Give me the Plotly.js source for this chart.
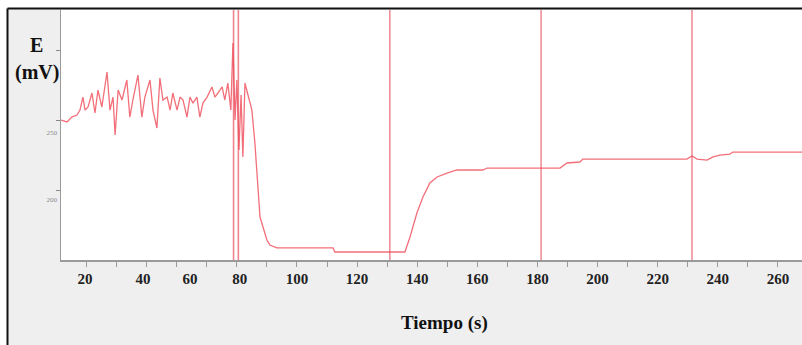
<!DOCTYPE html>
<html><head><meta charset="utf-8">
<script src="https://cdn.plot.ly/plotly-3.0.1.min.js"></script>
<style>html,body{margin:0;padding:0;background:#fff;overflow:hidden}</style>
</head><body><div id="chart" style="width:802px;height:345px"></div>
<script>
// Time (s)
const time = [21.5,23.5,25.1,26.8,27.8,28.8,29.5,30.5,31.8,32.8,33.8,35.1,36.8,37.8,38.8,39.5,40.5,41.8,43.4,44.4,45.4,47.1,48.4,49.4,51.1,52.1,53.4,54.4,55.4,56.8,57.8,58.7,60.1,61.1,62.1,63.4,64.4,65.4,66.7,67.7,68.7,70.1,71.7,72.7,73.7,75.1,76.0,77.0,78.0,78.7,79.4,80.0,80.7,81.4,82.0,82.7,83.7,85.0,86.0,87.0,87.7,88.7,90.0,91.0,93.3,97.7,112.0,112.6,135.9,137.6,139.9,141.9,144.2,146.6,149.9,153.2,161.9,163.2,187.5,189.8,194.1,195.1,229.7,231.4,233.1,236.4,238.4,240.7,244.0,245.0,268.0];
// Potential E (mV)
const potential = [250,248.6,252.1,253.6,257.1,266.4,257.1,259.3,269.3,255,271.4,259.3,284.3,257.1,266.4,239.3,271.4,264.3,278.6,252.1,264.3,282.1,252.1,266.4,278.6,257.1,244.3,280,264.3,266.4,257.1,269.3,257.1,266.4,264.3,252.1,266.4,262.1,266.4,252.1,262.1,266.4,273.6,266.4,269.3,273.6,264.3,276.4,257.1,305,250,278.6,228.6,267.9,223.6,276.4,267.9,257.1,233.6,197.9,180.7,173.6,164.3,160.7,158.6,158.6,158.6,155.7,155.7,166.4,183.6,195,205,209.3,212.1,214.3,214.3,215.7,215.7,219.3,220,222.1,222.1,224.3,222.1,221.4,223.6,225,225.7,227.1,227.1];
// Event marker times (s)
const eventTimes = [78.9,80.5,130.9,181.2,231.4];
// X tick labels and where they are printed
const xTickLabels = ['20','40','60','80','100','120','140','160','180','200','220','240','260'];
const xLabelPositions = [29.5,48.8,64.4,81,100,120,140,160,180,200,220,240,260];
// Y ticks
const yTickValues = [200,250,300];
const yTickLabels = ['250','200'];
const yLabelPositions = [241,193];

const xRange = [21.5,268];
const yRange = [150,328.6];

const traces = [
  {x: time, y: potential, type:'scatter', mode:'lines',
   line:{color:'rgba(240,85,98,0.85)', width:1.3}, hoverinfo:'skip', showlegend:false},
  {x:[null], y:[null], xaxis:'x2', yaxis:'y2', type:'scatter', mode:'lines', showlegend:false, hoverinfo:'skip'}
];

const shapes = eventTimes.map((t,i) => ({
  type:'line', xref:'x', yref:'paper', x0:t, x1:t, y0:0, y1:1,
  line:{color: i<2 ? 'rgba(232,80,95,0.7)' : 'rgba(228,75,88,0.9)', width: i<2 ? 1.6 : 1.1}
}));
shapes.push(
  {type:'rect', xref:'paper', yref:'paper', x0:-0.2, x1:1.2, y0:1.006, y1:1.1, fillcolor:'#ffffff', line:{width:0}},
  {type:'rect', xref:'paper', yref:'paper', x0:-0.2, x1:-0.0722, y0:-0.5, y1:1.1, fillcolor:'#ffffff', line:{width:0}},
  {type:'line', xref:'paper', yref:'paper', x0:-0.0722, x1:1.2, y0:1.006, y1:1.006, line:{color:'#111', width:2}},
  {type:'line', xref:'paper', yref:'paper', x0:-0.0722, x1:-0.0722, y0:-0.5, y1:1.006, line:{color:'#111', width:2}}
);

const serif = 'Liberation Serif, Times New Roman, serif';
const layout = {
  width:802, height:345,
  margin:{l:61, r:0, t:10, b:85, pad:0},
  paper_bgcolor:'#efefef', plot_bgcolor:'#ffffff',
  showlegend:false,
  xaxis:{range:xRange, showline:true, linecolor:'#9a9a9a', linewidth:1.5,
    ticks:'outside', tickmode:'linear', tick0:0, dtick:10, ticklen:5, tickcolor:'#9a9a9a', tickwidth:1,
    showticklabels:false, showgrid:false, zeroline:false, fixedrange:true},
  xaxis2:{range:xRange, overlaying:'x', anchor:'y2', side:'bottom', showline:false, ticks:'',
    tickmode:'array', tickvals:xLabelPositions, ticktext:xTickLabels, ticklabelstandoff:8,
    tickfont:{family:serif, size:15, color:'#222', weight:'bold'},
    showgrid:false, zeroline:false, fixedrange:true},
  yaxis:{range:yRange, showline:true, linecolor:'#9a9a9a', linewidth:1.5,
    ticks:'outside', tickmode:'array', tickvals:yTickValues, ticklen:4, tickcolor:'#888', tickwidth:1,
    showticklabels:false, showgrid:false, zeroline:false, fixedrange:true},
  yaxis2:{range:yRange, overlaying:'y', anchor:'x2', side:'left', showline:false, ticks:'',
    tickmode:'array', tickvals:yLabelPositions, ticktext:yTickLabels, ticklabelstandoff:3,
    tickfont:{family:serif, size:7, color:'#8a8a8a'},
    showgrid:false, zeroline:false, fixedrange:true},
  shapes: shapes,
  annotations:[
    {text:'E', xref:'paper', yref:'paper', x:-0.0324, y:0.86, xanchor:'center', yanchor:'middle', showarrow:false,
     font:{family:serif, size:20, color:'#111', weight:'bold'}},
    {text:'(mV)', xref:'paper', yref:'paper', x:-0.0324, y:0.752, xanchor:'center', yanchor:'middle', showarrow:false,
     font:{family:serif, size:20, color:'#111', weight:'bold'}},
    {text:'Tiempo (s)', xref:'paper', yref:'paper', x:0.518, y:-0.252, xanchor:'center', yanchor:'middle', showarrow:false,
     font:{family:serif, size:19, color:'#111', weight:'bold'}}
  ]
};
Plotly.newPlot('chart', traces, layout, {staticPlot:true, displayModeBar:false});
</script>
</body></html>
